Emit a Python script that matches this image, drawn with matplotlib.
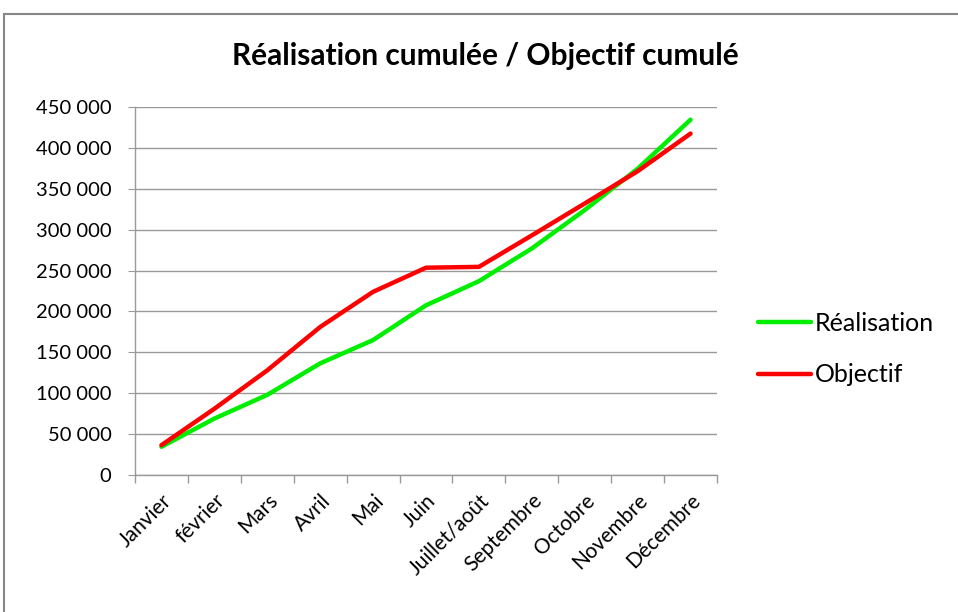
import matplotlib
matplotlib.use("Agg")
import matplotlib.pyplot as plt
from matplotlib.ticker import FuncFormatter, MultipleLocator, FixedLocator
from matplotlib.patches import Rectangle

categories = ["Janvier", "février", "Mars", "Avril", "Mai", "Juin",
              "Juillet/août", "Septembre", "Octobre", "Novembre", "Décembre"]
realisation = [34500, 69000, 98000, 136500, 165000, 207500,
               237000, 277000, 324000, 374500, 434500]
objectif = [36500, 81000, 128000, 181000, 224000, 253500,
            254500, 293000, 332000, 371500, 417500]

plt.rcParams['font.family'] = ['Lato', 'DejaVu Sans']

W, H = 958, 612
fig = plt.figure(figsize=(W/100, H/100), dpi=100)

# outer chart border
fig.patches.append(Rectangle((4/W, -0.1), 1.2, 1.1 - 14/H, transform=fig.transFigure,
                             fill=False, edgecolor='#888888', linewidth=1.5))

left, right, top, bottom = 135, 717, 107, 475
ax = fig.add_axes([left/W, 1 - bottom/H, (right-left)/W, (bottom-top)/H])

x = list(range(len(categories)))
ax.plot(x, realisation, color='#00EE00', lw=3.2, label='Réalisation', solid_capstyle='round', zorder=3)
ax.plot(x, objectif, color='#FF0000', lw=3.2, label='Objectif', solid_capstyle='round', zorder=4)

ax.set_xlim(-0.5, len(categories) - 0.5)
ax.set_ylim(0, 450000)
ax.yaxis.set_major_locator(MultipleLocator(50000))
ax.yaxis.set_major_formatter(FuncFormatter(lambda v, p: f"{int(v):,}".replace(",", " ")))
ax.grid(axis='y', color='#999999', lw=1)
ax.set_axisbelow(True)

for s in ['top', 'right']:
    ax.spines[s].set_visible(False)
for s in ['left', 'bottom']:
    ax.spines[s].set_color('#999999')
    ax.spines[s].set_linewidth(1)

ax.set_xticks(x)
ax.set_xticklabels(categories, rotation=45, ha='right', rotation_mode='anchor', fontsize=15)
ax.tick_params(axis='x', length=0, pad=11)
ax.xaxis.set_minor_locator(FixedLocator([i - 0.5 for i in range(len(categories) + 1)]))
ax.tick_params(axis='x', which='minor', length=6, color='#999999', width=1)
ax.tick_params(axis='y', length=5, color='#999999', labelsize=14.5, pad=12)

fig.text(485/W, 1 - 56/H, "Réalisation cumulée / Objectif cumulé", ha='center', va='center',
         fontsize=21.5, fontweight='bold')

ax.legend(loc='center left', bbox_to_anchor=(745/W, 1 - 349/H), bbox_transform=fig.transFigure,
          frameon=False, fontsize=18, handlelength=2.15, handletextpad=0.15, labelspacing=1.15,
          borderpad=0)

fig.savefig("out.png", dpi=100)
